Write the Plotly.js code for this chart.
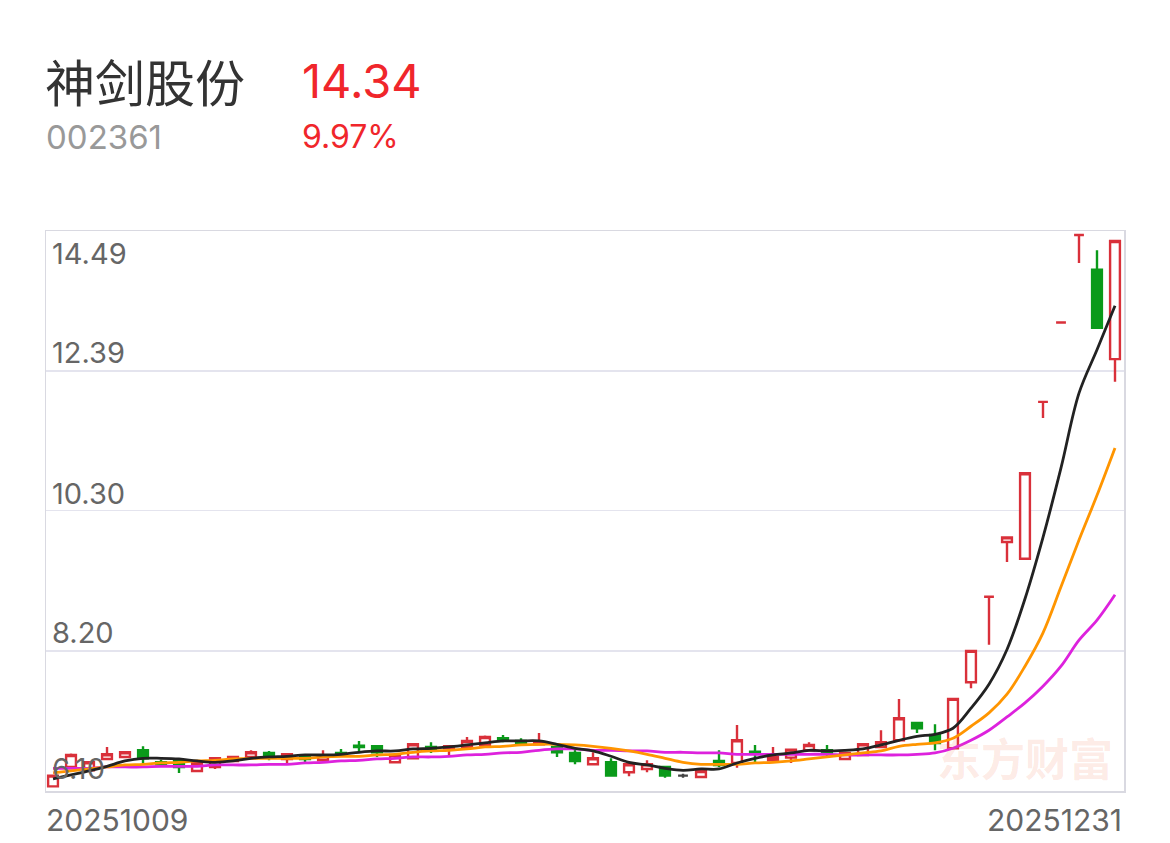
<!DOCTYPE html>
<html><head><meta charset="utf-8">
<script src="https://cdn.plot.ly/plotly-3.0.1.min.js"></script>
<style>html,body{margin:0;padding:0;background:#fff;}#chart{width:1170px;height:843px;}</style>
</head><body><div id="chart"></div>
<script>
const stockName = '神剑股份';
const stockCode = '002361';
const lastPrice = '14.34';
const changePct = '9.97%';
const watermark = '东方财富';

const dates = ['20251009','20251010','20251013','20251014','20251015','20251016','20251017','20251020','20251021','20251022','20251023','20251024','20251027','20251028','20251029','20251030','20251031',
'20251103','20251104','20251105','20251106','20251107','20251110','20251111','20251112','20251113','20251114','20251117','20251118','20251119','20251120','20251121','20251124','20251125','20251126','20251127','20251128',
'20251201','20251202','20251203','20251204','20251205','20251208','20251209','20251210','20251211','20251212','20251215','20251216','20251217','20251218','20251219','20251222','20251223','20251224','20251225','20251226','20251229','20251230','20251231'];

const open  = [6.17,6.46,6.41,6.58,6.61,6.71,6.53,6.56,6.40,6.46,6.55,6.61,6.67,6.58,6.61,6.56,6.67,6.78,6.77,6.53,6.59,6.76,6.74,6.76,6.79,6.89,6.85,6.80,6.76,6.67,6.50,6.53,6.38,6.43,6.46,6.33,6.31,6.55,6.52,6.69,6.56,6.60,6.71,6.71,6.58,6.64,6.76,6.86,7.12,6.94,6.74,7.73,9.01,9.83,9.58,11.93,13.12,14.43,13.91,12.57];
const high  = [6.34,6.66,6.55,6.76,6.69,6.77,6.57,6.58,6.53,6.60,6.62,6.71,6.70,6.66,6.62,6.71,6.73,6.85,6.78,6.65,6.81,6.83,6.79,6.91,6.93,6.94,6.89,6.97,6.77,6.72,6.68,6.59,6.51,6.56,6.47,6.36,6.41,6.71,7.09,6.79,6.76,6.73,6.83,6.79,6.68,6.82,7.01,7.48,7.13,7.10,7.48,8.21,9.01,9.91,10.87,11.93,13.12,14.43,14.20,14.34];
const low   = [6.16,6.45,6.40,6.57,6.60,6.52,6.47,6.37,6.38,6.43,6.54,6.60,6.56,6.52,6.52,6.55,6.61,6.68,6.61,6.52,6.58,6.67,6.64,6.75,6.78,6.83,6.81,6.79,6.61,6.50,6.49,6.32,6.32,6.38,6.30,6.30,6.30,6.46,6.45,6.53,6.55,6.52,6.70,6.62,6.57,6.63,6.75,6.85,6.97,6.71,6.73,7.64,8.29,9.53,9.57,11.69,13.12,14.01,13.03,12.23];
const close = [6.33,6.64,6.53,6.65,6.68,6.59,6.50,6.46,6.52,6.59,6.61,6.68,6.61,6.65,6.58,6.62,6.64,6.76,6.68,6.64,6.80,6.73,6.77,6.85,6.91,6.86,6.82,6.83,6.68,6.55,6.59,6.33,6.50,6.50,6.33,6.33,6.40,6.49,6.86,6.67,6.61,6.72,6.79,6.67,6.67,6.80,6.83,7.19,7.04,6.82,7.48,8.20,9.01,9.90,10.86,11.93,13.12,14.43,13.04,14.34];

const ma5  = [6.28,6.34,6.40,6.47,6.55,6.59,6.59,6.58,6.55,6.53,6.55,6.59,6.61,6.62,6.64,6.64,6.65,6.68,6.70,6.70,6.73,6.74,6.76,6.79,6.82,6.85,6.85,6.85,6.80,6.74,6.70,6.62,6.53,6.49,6.44,6.41,6.43,6.43,6.52,6.59,6.64,6.67,6.71,6.70,6.71,6.73,6.79,6.86,6.92,6.95,7.04,7.34,7.70,8.22,8.98,9.90,10.94,12.06,12.71,13.37];
const ma10 = [6.37,6.40,6.43,6.46,6.49,6.50,6.52,6.53,6.55,6.56,6.58,6.59,6.59,6.59,6.59,6.61,6.62,6.62,6.64,6.65,6.68,6.70,6.71,6.73,6.76,6.77,6.79,6.80,6.80,6.79,6.77,6.74,6.70,6.65,6.59,6.53,6.50,6.50,6.50,6.52,6.53,6.55,6.58,6.61,6.64,6.67,6.70,6.77,6.80,6.82,6.89,7.07,7.27,7.55,7.97,8.47,9.16,9.86,10.53,11.24];
const ma20 = [6.44,6.44,6.44,6.46,6.46,6.46,6.47,6.47,6.47,6.49,6.49,6.49,6.50,6.50,6.52,6.53,6.55,6.56,6.58,6.59,6.61,6.61,6.62,6.64,6.65,6.67,6.68,6.71,6.73,6.73,6.71,6.71,6.70,6.70,6.68,6.68,6.67,6.67,6.65,6.65,6.65,6.65,6.65,6.65,6.64,6.64,6.64,6.64,6.65,6.67,6.74,6.86,7.01,7.21,7.42,7.67,7.97,8.36,8.66,9.04];

const yTicks = [6.10, 8.20, 10.30, 12.39, 14.49];
const yTickText = ['6.10','8.20','10.30','12.39','14.49'];
const xLabels = ['20251009','20251231'];

const RED = '#d9303a', GREEN = '#0a9a1a', FLAT = '#444444';
const HEAD_RED = '#f0262b';
const NUMFONT = 'Inter, "Noto Sans CJK SC", sans-serif';
const CJKFONT = '"Noto Sans CJK SC", sans-serif';

// plot geometry in pixels
const L = 46, R = 1124, T = 231, B = 791, W = 1170, H = 843;
const px = x => (x - L) / (R - L);
const py = y => (B - y) / (B - T);

// direction per candle (Eastmoney style)
function dirOf(i){
  if (close[i] > open[i]) return 'up';
  if (close[i] < open[i]) return 'down';
  const pc = i > 0 ? close[i-1] : open[i];
  if (close[i] > pc) return 'up';
  if (close[i] < pc) return 'down';
  return 'flat';
}
function candleTrace(kind, color, fill){
  const idx = dates.map((d,i)=>i).filter(i => dirOf(i) === kind);
  const style = {line:{color:color, width:2.4}, fillcolor: fill};
  return {
    type:'candlestick', x: idx.map(i=>dates[i]),
    open: idx.map(i=>open[i]), high: idx.map(i=>high[i]),
    low: idx.map(i=>low[i]), close: idx.map(i=>close[i]),
    increasing: style, decreasing: style, whiskerwidth: 0,
    hoverinfo:'skip', showlegend:false
  };
}
function maTrace(vals, color){
  return {type:'scatter', mode:'lines', x: dates, y: vals,
    line:{color:color, width:2.8, shape:'spline', smoothing:1},
    hoverinfo:'skip', showlegend:false};
}

const data = [
  candleTrace('up', RED, '#ffffff'),
  candleTrace('down', GREEN, GREEN),
  candleTrace('flat', FLAT, FLAT),
  maTrace(ma20, '#dd22dd'),
  maTrace(ma10, '#ff9500'),
  maTrace(ma5, '#222222')
];

const ann = [];
function addText(text, x, y, size, color, xanchor, family, extra){
  ann.push(Object.assign({text:text, xref:'paper', yref:'paper', x:px(x), y:py(y),
    xanchor:xanchor, yanchor:'middle', showarrow:false,
    font:{size:size, color:color, family:family}}, extra||{}));
}
addText(stockName, 43, 80, 50, '#333333', 'left', CJKFONT);
addText(lastPrice, 300, 80, 47, HEAD_RED, 'left', NUMFONT);
addText(stockCode, 44, 137, 33, '#999999', 'left', NUMFONT);
addText(changePct, 300, 137, 32, HEAD_RED, 'left', NUMFONT);
// y tick labels
const ylabelY = [768, 632, 493, 352, 253];
yTickText.forEach((t,i)=> addText(t, 50, ylabelY[i], 29, '#666666', 'left', NUMFONT));
// x labels
addText(xLabels[0], 44, 820, 30, '#666666', 'left', NUMFONT);
addText(xLabels[1], 1124, 820, 30, '#666666', 'right', NUMFONT);
// watermark
addText('<b>' + watermark + '</b>', 1025, 757, 44, 'rgba(240,110,70,0.15)', 'center', CJKFONT);

const layout = {
  width: W, height: H,
  margin: {l:L, r:W-R, t:T, b:H-B, pad:0},
  paper_bgcolor:'#ffffff', plot_bgcolor:'#ffffff',
  showlegend:false,
  boxgap: 0.22,
  xaxis:{type:'category', categoryorder:'array', categoryarray: dates,
    range:[-0.39, 59.5], showticklabels:false, ticks:'',
    showgrid:false, zeroline:false, showline:true, mirror:true, linecolor:'#d9d9e1', linewidth:1.5,
    rangeslider:{visible:false}, fixedrange:true},
  yaxis:{range:[yTicks[0], yTicks[yTicks.length-1]], tickvals:yTicks, showticklabels:false, ticks:'',
    showgrid:true, gridcolor:'#e4e4ee', gridwidth:1.5, zeroline:false,
    showline:true, mirror:true, linecolor:'#d9d9e1', linewidth:1.5, fixedrange:true},
  annotations: ann,
  hovermode:false
};
Plotly.newPlot('chart', data, layout, {displayModeBar:false, staticPlot:true});
</script>
</body></html>
